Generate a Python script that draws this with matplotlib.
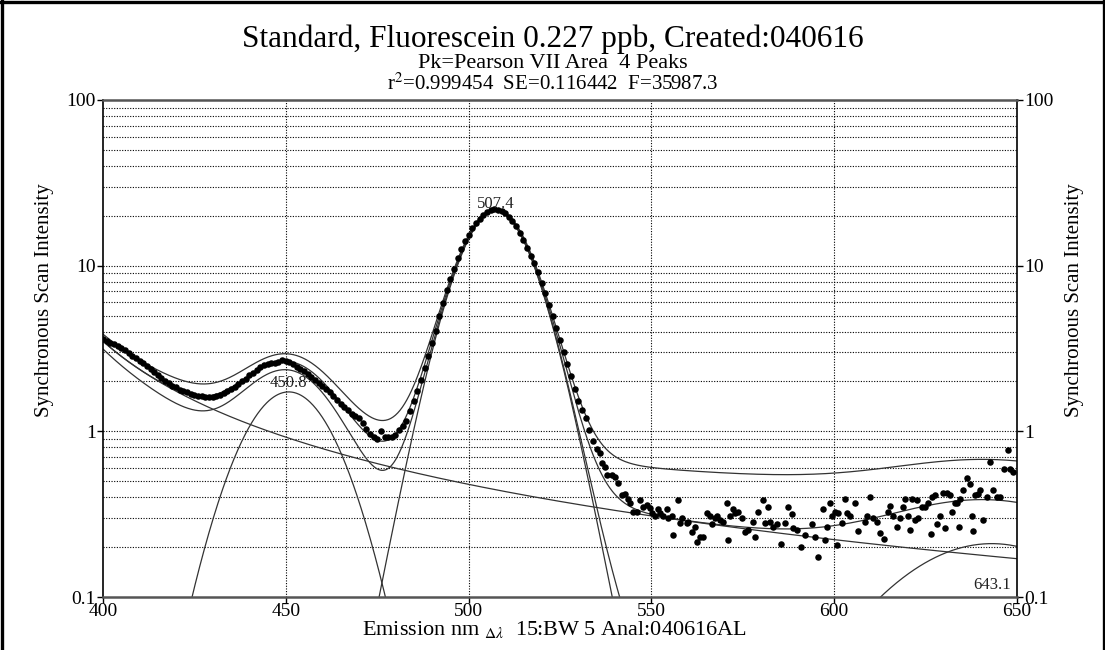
import numpy as np
import matplotlib
matplotlib.use('Agg')
import matplotlib.pyplot as plt
from matplotlib.lines import Line2D

plt.rcParams['font.family'] = ['Liberation Serif', 'DejaVu Serif']
plt.rcParams['mathtext.fontset'] = 'stix'

# ---------------- text ----------------
title = "Standard, Fluorescein 0.227 ppb, Created:040616"
subtitle = "Pk=Pearson VII Area  4 Peaks"
stats = "r$^{2}$=0.999454  SE=0.116442  F=35987.3"
xlabel_a = "Emission nm "
xlabel_b = "$_{\\Delta\\lambda}$"
xlabel_c = "  15:BW 5 Anal:040616AL"
ylabel = "Synchronous Scan Intensity"

x_ticks = [400, 450, 500, 550, 600, 650]
x_tick_labels = ["400", "450", "500", "550", "600", "650"]
y_ticks = [0.1, 1, 10, 100]
y_tick_labels = ["0.1", "1", "10", "100"]
x_grid = [450, 500, 550, 600]

# ---------------- measured points ----------------
# dense part, one point per nm
wl_dense = list(range(400, 536))
int_dense = [
    3.62, 3.50, 3.42, 3.35, 3.26, 3.18, 3.08, 2.98, 2.86, 2.76,
    2.66, 2.57, 2.47, 2.38, 2.28, 2.20, 2.10, 2.02, 1.96, 1.88,
    1.84, 1.78, 1.75, 1.72, 1.68, 1.66, 1.64, 1.63, 1.62, 1.61,
    1.62, 1.63, 1.65, 1.70, 1.74, 1.80, 1.86, 1.94, 2.02, 2.08,
    2.18, 2.26, 2.36, 2.44, 2.50, 2.56, 2.58, 2.60, 2.62, 2.68,
    2.66, 2.62, 2.55, 2.46, 2.38, 2.30, 2.22, 2.14, 2.05, 1.96,
    1.88, 1.80, 1.72, 1.63, 1.55, 1.47, 1.40, 1.34, 1.28, 1.24,
    1.21, 1.12, 1.04, 0.97, 0.92, 0.90, 1.00, 0.92, 0.93, 0.92,
    0.95, 1.02, 1.08, 1.16, 1.32, 1.52, 1.75, 2.05, 2.40, 2.85,
    3.40, 4.05, 4.95, 5.95, 7.10, 8.30, 9.60, 11.1, 12.6, 14.0,
    15.4, 16.9, 18.1, 19.2, 20.2, 21.0, 21.6, 21.9, 21.8, 21.4,
    20.7, 19.8, 18.6, 17.3, 15.8, 14.3, 12.8, 11.4, 10.4, 9.2,
    7.9, 6.8, 5.8, 4.95, 4.20, 3.56, 3.00, 2.55, 2.15, 1.80,
    1.52, 1.35, 1.20, 1.02, 0.88, 0.78,
]

# scattered tail
wl_tail = [
    535.9, 536.5, 537.3, 537.9, 539.2, 540.0, 540.9, 542.0, 542.8, 543.6,
    544.1, 545.0, 546.1, 546.9, 547.7, 548.8, 549.6, 550.2, 551.0, 551.8,
    552.4, 553.2, 554.3, 554.5, 555.6, 555.9, 557.3, 557.8, 558.4, 559.7,
    560.0, 561.1, 561.9, 563.3, 564.1, 565.2, 566.0, 566.6, 567.4, 567.9,
    568.8, 569.6, 570.7, 571.5, 572.3, 572.9, 573.7, 574.8, 575.6, 576.4,
    577.8, 578.3, 579.2, 580.5, 581.1, 581.9, 582.4, 583.3, 584.4, 586.5,
    587.4, 588.5, 588.7, 589.8, 592.0, 593.9, 594.7, 596.9, 598.0, 598.8,
    599.4, 600.2, 601.0, 602.1, 603.0, 603.5, 604.3, 605.7, 608.4, 609.0,
    609.8, 610.6, 611.7, 614.7, 615.3, 616.1, 617.2, 618.0, 618.8, 619.4,
    620.2, 621.3, 622.1, 622.6, 622.9, 624.0, 624.8, 625.7, 626.7, 627.6,
    628.1, 628.9, 629.8, 630.9, 631.7, 632.2, 633.0, 633.6, 634.4, 635.2,
    636.3, 637.1, 637.7, 638.5, 639.3, 639.9, 640.7, 641.8, 642.6, 643.4,
    644.5, 645.4, 646.4, 647.5, 648.1, 649.0,
    562.5, 571.0, 585.5, 590.8, 595.6, 597.5, 600.8, 606.5, 612.6, 613.5,
    620.8, 626.5, 630.3, 634.0, 638.0,
]
int_tail = [
    0.74, 0.645, 0.61, 0.545, 0.545, 0.53, 0.49, 0.41, 0.42, 0.39,
    0.37, 0.326, 0.326, 0.385, 0.35, 0.36, 0.345, 0.32, 0.31, 0.34,
    0.32, 0.31, 0.34, 0.30, 0.31, 0.237, 0.385, 0.28, 0.30, 0.28,
    0.285, 0.247, 0.265, 0.23, 0.23, 0.32, 0.31, 0.275, 0.30, 0.31,
    0.29, 0.285, 0.37, 0.31, 0.34, 0.32, 0.326, 0.30, 0.247, 0.255,
    0.285, 0.23, 0.326, 0.385, 0.28, 0.35, 0.285, 0.265, 0.275, 0.28,
    0.35, 0.315, 0.26, 0.255, 0.237, 0.275, 0.23, 0.34, 0.265, 0.37,
    0.31, 0.326, 0.32, 0.28, 0.39, 0.32, 0.31, 0.37, 0.285, 0.31,
    0.40, 0.30, 0.285, 0.326, 0.355, 0.31, 0.265, 0.30, 0.35, 0.39,
    0.31, 0.39, 0.29, 0.385, 0.30, 0.35, 0.35, 0.37, 0.40, 0.41,
    0.275, 0.31, 0.425, 0.425, 0.41, 0.326, 0.37, 0.37, 0.39, 0.44,
    0.52, 0.48, 0.31, 0.41, 0.42, 0.44, 0.29, 0.40, 0.65, 0.445,
    0.40, 0.40, 0.59, 0.77, 0.59, 0.57,
    0.215, 0.22, 0.21, 0.20, 0.175, 0.22, 0.205, 0.25, 0.245, 0.225,
    0.255, 0.24, 0.26, 0.265, 0.25,
]

# ---------------- fitted Pearson VII peaks ----------------
peak_centers = [371.0, 450.8, 507.4, 643.1]
peak_amps = [55.6, 1.73, 21.3, 0.21]
peak_hwhm = [5.0, 12.9, 10.0, 29.4]
peak_shape = [0.67, 50.0, 9.0, 50.0]
band_base = 0.29
band_left = 0.07
band_left_scale = 15.0

peak_labels = ["450.8", "507.4", "643.1"]
peak_label_x = [450.8, 507.4, 643.1]
peak_label_y = [1.96, 23.6, 0.118]


def pearson7(x, c, a, w, m):
    k = 2.0 ** (1.0 / m) - 1.0
    return a * (1.0 + k * ((x - c) / w) ** 2) ** (-m)


fig = plt.figure(figsize=(11.05, 6.5), dpi=100)
ax = fig.add_axes([103 / 1105, 1 - 597 / 650, 914 / 1105, 497 / 650])
ax.set_yscale('log')
ax.set_xlim(400, 650)
ax.set_ylim(0.1, 100)

# grid
grid_vals = [m * 10.0 ** e for e in (-1, 0, 1) for m in range(1, 10)][1:]
for v in grid_vals:
    ax.axhline(v, color='black', lw=0.8, ls=(0, (1, 1.4)), zorder=1)
for xv in x_grid:
    ax.axvline(xv, color='black', lw=0.8, ls=(0, (1, 1.4)), zorder=1)

xs = np.linspace(400, 650, 1201)
comps = [pearson7(xs, c, a, w, m) for c, a, w, m in
         zip(peak_centers, peak_amps, peak_hwhm, peak_shape)]
fit = np.sum(comps, axis=0)
band = band_base + band_left * np.exp(-(xs - 400) / band_left_scale)
upper = fit + band
lower = fit - band
lower = np.where(lower > 0, lower, np.nan)

lc = '#333333'
lw = 0.9
for cmp in comps:
    ax.plot(xs, cmp, color=lc, lw=lw, zorder=2)
ax.plot(xs, fit, color=lc, lw=lw, zorder=2)
ax.plot(xs, upper, color=lc, lw=lw, zorder=2)
ax.plot(xs, lower, color=lc, lw=lw, zorder=2)

ax.scatter(wl_dense, int_dense, s=22, c='black', zorder=5, linewidths=0)
ax.scatter(wl_tail, int_tail, s=22, c='black', zorder=5, linewidths=0)

for t, xv, yv in zip(peak_labels, peak_label_x, peak_label_y):
    ax.text(xv, yv, t, ha='center', va='center', fontsize=12, color='#222222', zorder=6)

# axes styling
ax.set_xticks(x_ticks)
ax.set_xticklabels(x_tick_labels)
ax.set_yticks(y_ticks)
ax.set_yticklabels(y_tick_labels)
ax.yaxis.set_minor_locator(matplotlib.ticker.NullLocator())
ax.tick_params(axis='both', direction='out', length=4, width=1, labelsize=14)
ax.tick_params(axis='x', pad=0)
ax.tick_params(axis='y', pad=1)
ax.tick_params(axis='y', right=True, labelright=True)
for side in ('left', 'right'):
    ax.spines[side].set_color('black')
    ax.spines[side].set_linewidth(1.2)
for side in ('top', 'bottom'):
    ax.spines[side].set_color('#555555')
    ax.spines[side].set_linewidth(1.8)

# titles
fig.text(0.5, 1 - 39 / 650, title, ha='center', va='center', fontsize=22.5)
fig.text(0.5, 1 - 63 / 650, subtitle, ha='center', va='center', fontsize=16)
fig.text(0.5, 1 - 84 / 650, stats, ha='center', va='center', fontsize=15)

# axis labels
ylab_y = 1 - 300 / 650
fig.text(45 / 1105, ylab_y, ylabel, rotation=90, ha='center', va='center', fontsize=15)
fig.text(1075 / 1105, ylab_y, ylabel, rotation=90, ha='center', va='center', fontsize=15)
fig.text(0.502, 1 - 630 / 650, xlabel_a + xlabel_b + xlabel_c, ha='center', va='center',
         fontsize=16)

# outer frame (left, top, right)
for xy in (([0.0015, 0.0015], [0, 1]), ([0, 1], [1 - 1.5 / 650, 1 - 1.5 / 650]),
           ([1 - 1.5 / 1105, 1 - 1.5 / 1105], [0, 1])):
    fig.add_artist(Line2D(xy[0], xy[1], transform=fig.transFigure, color='black', lw=2.4))

fig.savefig('out.png', dpi=100)
